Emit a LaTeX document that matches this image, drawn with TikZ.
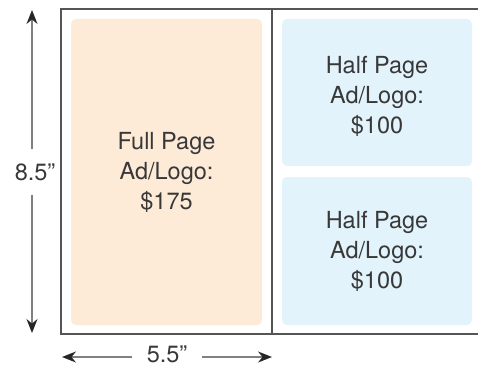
\documentclass[tikz,border=0pt]{standalone}
\usepackage{fontspec}
\setmainfont{TeX Gyre Heros}
\usetikzlibrary{arrows.meta}

\definecolor{fullfill}{HTML}{FDEBD8}
\definecolor{halffill}{HTML}{E2F3FB}
\definecolor{pageline}{HTML}{555555}
\definecolor{textgray}{HTML}{383838}

\tikzset{
  adbox/.style={rounded corners=5pt, draw=none, text=textgray, align=center,
    font=\fontsize{23.5}{30}\selectfont},
  dimlabel/.style={text=textgray, font=\fontsize{23.5}{26}\selectfont},
  dimarrow/.style={-{Stealth[length=14pt,width=11pt,color=black!85]},
    draw=black!50, line width=1.3pt},
}

\begin{document}
\begin{tikzpicture}[x=1pt,y=-1pt]
    \useasboundingbox (0,0) rectangle (478,366);

    % page outline
    \draw[pageline, line width=1.3pt] (478,9) -- (61,9) -- (61,334) -- (478,334);
    \draw[pageline, line width=1.3pt] (272,9) -- (272,334);

    % ad spaces
    \node[adbox, fill=fullfill, minimum width=191pt, minimum height=306pt] (full) at (166.5,172) {Full Page\\Ad/Logo:\\\$175};
    \node[adbox, fill=halffill, minimum width=190pt, minimum height=147pt] (halftop) at (377,92.5) {};
    \node[adbox] (halftoptext) at (377,96) {Half Page\\Ad/Logo:\\\$100};
    \node[adbox, fill=halffill, minimum width=190pt, minimum height=148pt] (halfbot) at (377,251) {Half Page\\Ad/Logo:\\\$100};

    % dimensions
    \node[dimlabel, inner xsep=15pt, inner ysep=14pt] (height) at (35,172) {8.5”};
    \node[dimlabel, inner xsep=15pt, inner ysep=0pt] (width) at (167,354) {5.5”};

    \coordinate (htop) at (32,10);
    \coordinate (hbot) at (32,333);
    \coordinate (wleft) at (62,357);
    \coordinate (wright) at (272,357);

    \draw[dimarrow] (height.north -| htop) -- (htop);
    \draw[dimarrow] (height.south -| hbot) -- (hbot);
    \draw[dimarrow] (width.west |- wleft) -- (wleft);
    \draw[dimarrow] (width.east |- wright) -- (wright);

\end{tikzpicture}
\end{document}
